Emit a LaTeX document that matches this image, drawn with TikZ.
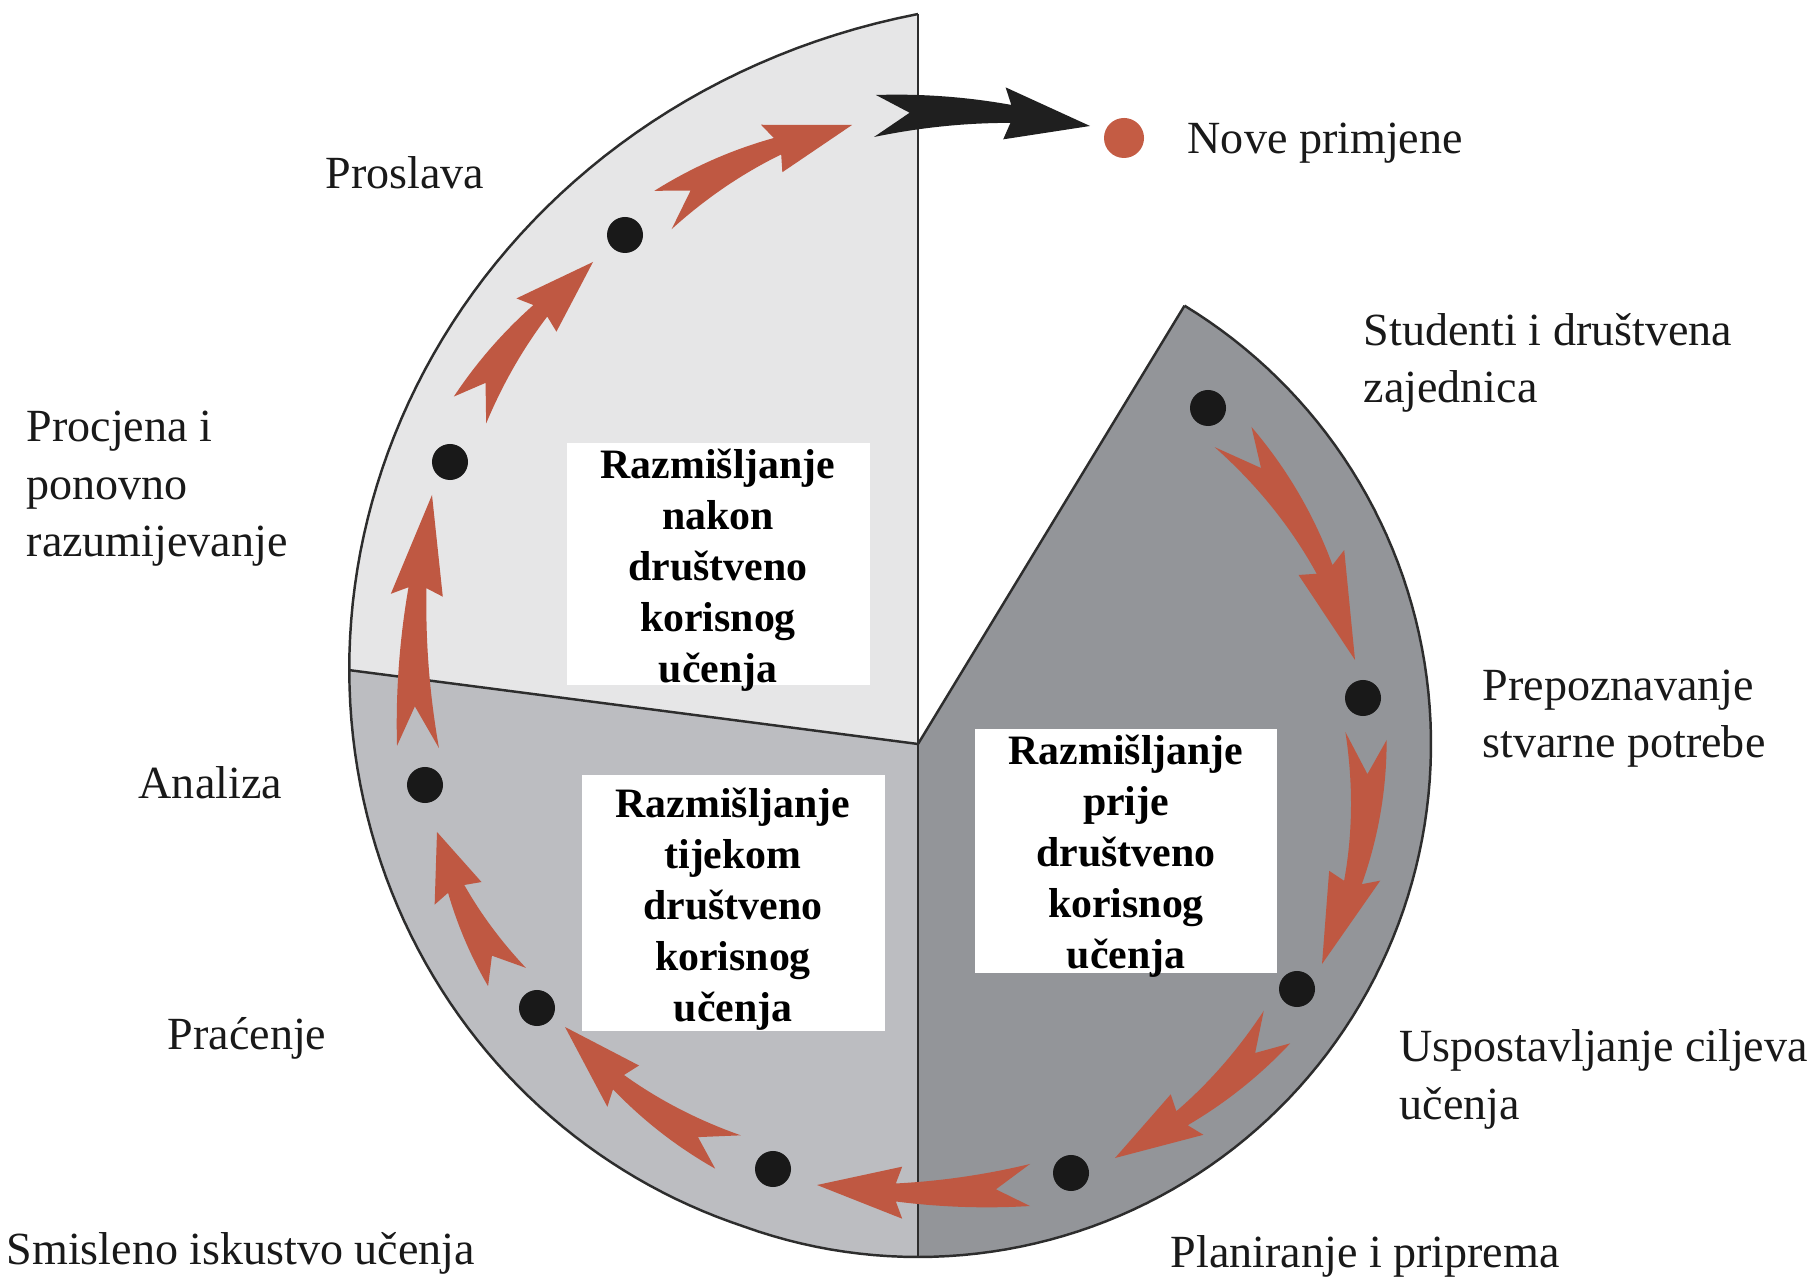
\documentclass[tikz,border=0pt]{standalone}
\usepackage{fontspec}
\setmainfont{Liberation Serif}
\usetikzlibrary{calc}
\definecolor{arrred}{RGB}{191,88,66}
\definecolor{dotorange}{RGB}{196,92,68}
\definecolor{segdark}{RGB}{147,149,153}
\definecolor{segmid}{RGB}{188,189,193}
\definecolor{seglight}{RGB}{230,230,231}
\definecolor{edgecol}{RGB}{45,45,45}
\definecolor{labelcol}{RGB}{25,25,25}
% curved swallow-tail arrow: #1 style, #2 tail coordinate, #3 tip coordinate, #4 bend (px, + = left of travel)
\newcommand\crvarrow[4]{%
 \pgfmathsetmacro\vHa{0.1*(9+0.9324*(#4))}%
 \pgfmathsetmacro\vHb{0.1*(-9+0.9324*(#4))}%
 \pgfmathsetmacro\vCa{0.1*(17+0.84*(#4))}%
 \pgfmathsetmacro\vCb{0.1*(-17+0.84*(#4))}%
 \pgfmathsetmacro\vDa{0.1*(13+1.1508*(#4))}%
 \pgfmathsetmacro\vDb{0.1*(-13+1.1508*(#4))}%
 \pgfmathsetmacro\vBa{0.1*(26+0.96*(#4))}%
 \pgfmathsetmacro\vBb{0.1*(-26+0.96*(#4))}%
 \pgfmathsetmacro\vN{0.1*(0.5376*(#4))}%
 \fill[#1] ($(#2)!0!(#3)!2.1mm!90:(#3)$)
   .. controls ($(#2)!0.21!(#3)!\vCa mm!90:(#3)$) and ($(#2)!0.42!(#3)!\vDa mm!90:(#3)$)
   .. ($(#2)!0.63!(#3)!\vHa mm!90:(#3)$)
   -- ($(#2)!0.6!(#3)!\vBa mm!90:(#3)$)
   -- (#3)
   -- ($(#2)!0.6!(#3)!\vBb mm!90:(#3)$)
   -- ($(#2)!0.63!(#3)!\vHb mm!90:(#3)$)
   .. controls ($(#2)!0.42!(#3)!\vDb mm!90:(#3)$) and ($(#2)!0.21!(#3)!\vCb mm!90:(#3)$)
   .. ($(#2)!0!(#3)!-2.1mm!90:(#3)$)
   -- ($(#2)!0.16!(#3)!\vN mm!90:(#3)$)
   -- cycle;}
\begin{document}
\begin{tikzpicture}[x=0.01cm,y=-0.01cm,
  declare function={rr(\t)=513+0.244*max(\t-110,0)+(0.08337*max(\t-110,0))^2;},
  lbl/.style={anchor=base west, align=left, inner sep=0, text=labelcol,
    font=\fontsize{13.1}{16.4}\selectfont},
  wbox/.style={fill=white, inner sep=0, draw=none},
  btext/.style={align=center, inner sep=0, font=\fontsize{11.9}{14.5}\selectfont\bfseries},
  blackdot/.style={circle, fill=black!90, inner sep=0, minimum size=3.6mm},
  orangedot/.style={circle, fill=dotorange, inner sep=0, minimum size=4mm},
  redarr/.style={fill=arrred},
  blkarr/.style={fill=black!88},
  segline/.style={draw=edgecol, line width=0.7pt, line join=round}
]
\useasboundingbox (0,0) rectangle (1807,1277);
\fill[white] (0,0) rectangle (1807,1277);
% ---- pie sections (spiral outline) ----
\coordinate (C) at (918,744);
\coordinate (pA) at ({918+rr(-58.7)*cos(-58.7)},{744+rr(-58.7)*sin(-58.7)});
\coordinate (pB) at ({918+rr(90)*cos(90)},{744+rr(90)*sin(90)});
\coordinate (pC) at ({918+rr(187.4)*cos(187.4)},{744+rr(187.4)*sin(187.4)});
\coordinate (pD) at ({918+rr(270)*cos(270)},{744+rr(270)*sin(270)});
\fill[segdark] (C) -- plot[domain=-58.7:90,samples=60,variable=\t] ({918+rr(\t)*cos(\t)},{744+rr(\t)*sin(\t)}) -- cycle;
\fill[segmid] (C) -- plot[domain=90:187.4,samples=60,variable=\t] ({918+rr(\t)*cos(\t)},{744+rr(\t)*sin(\t)}) -- cycle;
\fill[seglight] (C) -- plot[domain=187.4:270,samples=60,variable=\t] ({918+rr(\t)*cos(\t)},{744+rr(\t)*sin(\t)}) -- cycle;
\draw[segline] plot[domain=-58.7:270,samples=200,variable=\t] ({918+rr(\t)*cos(\t)},{744+rr(\t)*sin(\t)});
\draw[segline] (C) -- (pA);
\draw[segline] (C) -- (pB);
\draw[segline] (C) -- (pC);
\draw[segline] (C) -- (pD);
% ---- white text boxes ----
\node[wbox, minimum width=3.03cm, minimum height=2.42cm] (bxA) at (718.5,564) {};
\node[wbox, minimum width=3.03cm, minimum height=2.56cm] (bxB) at (733.5,903) {};
\node[wbox, minimum width=3.02cm, minimum height=2.44cm] (bxC) at (1126,851) {};
\node[btext] (txA) at (718,570) {Razmišljanje\\nakon\\društveno\\korisnog\\učenja};
\node[btext] (txB) at (733,909) {Razmišljanje\\tijekom\\društveno\\korisnog\\učenja};
\node[btext] (txC) at (1126,856) {Razmišljanje\\prije\\društveno\\korisnog\\učenja};
% ---- arrows ----
\coordinate (a1t) at (1233,437); \coordinate (a1h) at (1355,660);
\coordinate (a2t) at (1366,736); \coordinate (a2h) at (1322,964);
\coordinate (a3t) at (1277,1027); \coordinate (a3h) at (1115,1158);
\coordinate (a4t) at (1030,1185); \coordinate (a4h) at (817,1185);
\coordinate (a5t) at (728,1152); \coordinate (a5h) at (565,1027);
\coordinate (a6t) at (507,977); \coordinate (a6h) at (437,832);
\coordinate (a7t) at (418,747); \coordinate (a7h) at (432,495);
\coordinate (a8t) at (470,410); \coordinate (a8h) at (593,262);
\coordinate (a9t) at (663,210); \coordinate (a9h) at (852,125);
\coordinate (akt) at (875,116); \coordinate (akh) at (1090,126);
\crvarrow{redarr}{a1t}{a1h}{18}
\crvarrow{redarr}{a2t}{a2h}{16}
\crvarrow{redarr}{a3t}{a3h}{12}
\crvarrow{redarr}{a4t}{a4h}{8}
\crvarrow{redarr}{a5t}{a5h}{12}
\crvarrow{redarr}{a6t}{a6h}{8}
\crvarrow{redarr}{a7t}{a7h}{10}
\crvarrow{redarr}{a8t}{a8h}{10}
\crvarrow{redarr}{a9t}{a9h}{12}
\crvarrow{blkarr}{akt}{akh}{9}
% ---- dots ----
\node[blackdot] (d1) at (1208,408) {};
\node[blackdot] (d2) at (1363,698) {};
\node[blackdot] (d3) at (1297,989) {};
\node[blackdot] (d4) at (1071,1173) {};
\node[blackdot] (d5) at (773,1169) {};
\node[blackdot] (d6) at (537,1008) {};
\node[blackdot] (d7) at (425,785) {};
\node[blackdot] (d8) at (450,462) {};
\node[blackdot] (d9) at (625,235) {};
\node[orangedot] (dn) at (1124,138) {};
% ---- labels (anchor = baseline of the last line) ----
\node[lbl] (lnove) at (1187,154) {Nove primjene};
\node[lbl] (lpros) at (325,189) {Proslava};
\node[lbl] (lstud) at (1363,403) {Studenti i društvena\\zajednica};
\node[lbl] (lproc) at (26,557) {Procjena i\\ponovno\\razumijevanje};
\node[lbl] (lprep) at (1482,758) {Prepoznavanje\\stvarne potrebe};
\node[lbl] (lanal) at (138,799) {Analiza};
\node[lbl] (lprac) at (167,1049) {Praćenje};
\node[lbl] (lusp) at (1399,1119) {Uspostavljanje ciljeva\\učenja};
\node[lbl] (lsmis) at (6,1264) {Smisleno iskustvo učenja};
\node[lbl] (lplan) at (1170,1267) {Planiranje i priprema};
\end{tikzpicture}
\end{document}
